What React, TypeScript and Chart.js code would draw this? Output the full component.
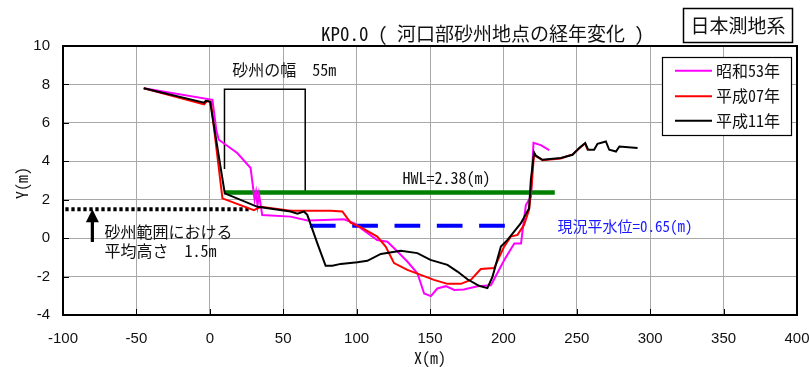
import { useEffect, useRef } from "react";
import { Chart, registerables } from "chart.js";

Chart.register(...registerables);

// Survey cross-section KP0.0, distance X (m) and elevation Y (m)
const showa53X = [-45, 1.8, 4.5, 6.1, 18.7, 27.8, 30.5, 31.5, 32.5, 33.5, 35.7, 55, 66.5, 78, 91.5, 98.4, 114, 121, 128, 134.7, 141.5, 146, 150.6, 155, 160.8, 166.5, 173, 182.4, 191.5, 200.5, 207.4, 212, 214.3, 215.3, 218.7, 220.5, 225.5, 231.2];
const showa53Y = [7.8, 7.2, 5.6, 5.12, 4.43, 3.65, 2.0, 2.4, 1.7, 2.3, 1.2, 1.12, 0.92, 0.95, 0.98, 0.77, -0.1, -0.19, -0.71, -1.23, -1.84, -2.88, -3.02, -2.62, -2.5, -2.7, -2.67, -2.5, -2.45, -1.15, -0.28, -0.28, 1.15, 1.72, 2.15, 4.96, 4.84, 4.58];

const heisei07X = [-45, -3.9, -1.7, 0.7, 8.6, 30, 34.8, 55, 82.5, 90.3, 95.9, 103.9, 114.1, 119.8, 125.5, 134.6, 143.7, 152.7, 161.9, 171, 177.8, 184.6, 193.7, 200.5, 205, 209.6, 214.1, 217.5, 219.2, 220.9, 222.1, 226.6, 239.1, 247.1, 251.6, 255.7, 257.5];
const heisei07Y = [7.8, 6.96, 7.15, 7.1, 2.07, 1.46, 1.63, 1.42, 1.42, 1.39, 0.81, 0.52, 0.08, -0.44, -1.3, -1.65, -1.91, -2.17, -2.38, -2.38, -2.17, -1.61, -1.56, -0.44, 0.08, 0.17, 0.69, 1.47, 2.69, 4.42, 4.27, 4.06, 4.15, 4.36, 4.67, 4.93, 4.58];

const heisei11X = [-45, -3.9, -2.7, 0.2, 10.2, 32.5, 55, 59.7, 64.1, 66.4, 73.2, 78.9, 83.5, 89.2, 100.5, 107.3, 116.5, 130.1, 141.4, 150.3, 161.9, 168.7, 175.5, 183.4, 189.1, 192.6, 198.3, 202.8, 211.9, 217.5, 218.7, 220.9, 222.1, 226.6, 239.1, 247.1, 251.6, 255.7, 257.7, 261.8, 264.1, 269.8, 272.1, 276.7, 279, 291.4];
const heisei11Y = [7.8, 7.05, 7.15, 7.1, 2.33, 1.63, 1.39, 1.27, 1.39, 1.21, -0.26, -1.44, -1.44, -1.34, -1.25, -1.18, -0.82, -0.66, -0.78, -1.13, -1.39, -1.74, -2.14, -2.48, -2.6, -2.0, -0.44, -0.09, 0.78, 1.56, 3.04, 4.46, 4.29, 4.08, 4.17, 4.34, 4.69, 4.95, 4.6, 4.6, 4.91, 5.03, 4.6, 4.51, 4.77, 4.69];

// Reference levels
const HWL = 2.38;
const hwlRange = [10, 235];
const normalWater = 0.65;
const normalWaterRange = [68.2, 212];
const meanBarHeight = 1.5;
const meanBarRange = [-98.4, 26.5];
const barLeft = 10;
const barRight = 65;
const barTop = 7.75;
const barLeftFoot = 3.6;
const arrowX = -80;
const arrowFoot = -0.2;

// Axes
const xTicks = [-100, -50, 0, 50, 100, 150, 200, 250, 300, 350, 400];
const yTicks = [-4, -2, 0, 2, 4, 6, 8, 10];

const seriesNames = ["昭和53年", "平成07年", "平成11年"];
const seriesColors = ["#ff00ff", "#ff0000", "#000000"];

const pts = (xs: number[], ys: number[]) => xs.map((x, i) => ({ x, y: ys[i] }));

const mono = (size: number) =>
  `${size}px "Noto Sans Mono CJK JP", "Noto Sans CJK JP", sans-serif`;

const overlay = {
  id: "overlay",
  afterDraw(chart: any) {
    const { ctx, chartArea: a, scales } = chart;
    const sx = scales.x;
    const sy = scales.y;
    ctx.save();

    // inner tick marks
    ctx.strokeStyle = "#000";
    ctx.lineWidth = 1;
    ctx.beginPath();
    xTicks.forEach((v) => {
      const px = Math.round(sx.getPixelForValue(v)) + 0.5;
      ctx.moveTo(px, a.bottom);
      ctx.lineTo(px, a.bottom - 6);
    });
    yTicks.forEach((v) => {
      const py = Math.round(sy.getPixelForValue(v)) + 0.5;
      ctx.moveTo(a.left, py);
      ctx.lineTo(a.left + 6, py);
    });
    ctx.stroke();

    // plot frame
    ctx.lineWidth = 2;
    ctx.strokeRect(a.left, a.top, a.right - a.left, a.bottom - a.top);

    // arrow for mean bar height
    const ax = sx.getPixelForValue(arrowX);
    const tip = sy.getPixelForValue(meanBarHeight);
    const foot = sy.getPixelForValue(arrowFoot);
    ctx.fillStyle = "#000";
    ctx.fillRect(ax - 1.6, tip + 11, 3.2, foot - tip - 11);
    ctx.beginPath();
    ctx.moveTo(ax, tip);
    ctx.lineTo(ax - 6.5, tip + 13);
    ctx.lineTo(ax + 6.5, tip + 13);
    ctx.closePath();
    ctx.fill();

    // annotations
    ctx.textBaseline = "middle";
    ctx.textAlign = "left";
    ctx.fillStyle = "#111";
    ctx.font = mono(16);
    ctx.fillText("砂州の幅", sx.getPixelForValue(15.3), sy.getPixelForValue(8.73));
    ctx.fillText("55m", sx.getPixelForValue(69.8), sy.getPixelForValue(8.73));
    ctx.fillText(`HWL=${HWL}(m)`, sx.getPixelForValue(131.2), sy.getPixelForValue(3.12));
    ctx.fillText("砂州範囲における", sx.getPixelForValue(-71.8), sy.getPixelForValue(0.33));
    ctx.fillText(`平均高さ　${meanBarHeight}m`, sx.getPixelForValue(-71.8), sy.getPixelForValue(-0.65));
    ctx.fillStyle = "#1a1aff";
    ctx.font = mono(15);
    ctx.fillText(`現況平水位=${normalWater}(m)`, sx.getPixelForValue(236.9), sy.getPixelForValue(0.6));

    // title
    ctx.fillStyle = "#111";
    ctx.textAlign = "center";
    ctx.font = mono(19);
    ctx.fillText("KP0.0 ( 河口部砂州地点の経年変化 )", 482.5, 34);

    // datum box
    ctx.fillStyle = "#fff";
    ctx.fillRect(683.5, 8.5, 109, 34);
    ctx.lineWidth = 1.5;
    ctx.strokeStyle = "#000";
    ctx.strokeRect(683.5, 8.5, 109, 34);
    ctx.fillStyle = "#111";
    ctx.font = mono(19);
    ctx.fillText("日本測地系", 738, 26);

    // axis titles
    ctx.font = mono(16);
    ctx.fillText("X(m)", (a.left + a.right) / 2, 358);
    ctx.save();
    ctx.translate(21.5, 183);
    ctx.rotate(-Math.PI / 2);
    ctx.fillText("Y(m)", 0, 0);
    ctx.restore();

    // legend
    ctx.fillStyle = "#fff";
    ctx.fillRect(662.5, 57.5, 129, 78);
    ctx.lineWidth = 1.2;
    ctx.strokeStyle = "#000";
    ctx.strokeRect(662.5, 57.5, 129, 78);
    const rows = [70.7, 96.2, 120.7];
    ctx.textAlign = "left";
    ctx.font = mono(16);
    seriesNames.forEach((name, i) => {
      ctx.strokeStyle = seriesColors[i];
      ctx.lineWidth = 2;
      ctx.beginPath();
      ctx.moveTo(675, rows[i]);
      ctx.lineTo(712, rows[i]);
      ctx.stroke();
      ctx.fillStyle = "#111";
      ctx.fillText(name, 716, rows[i]);
    });

    ctx.restore();
  },
};

export default function App() {
  const ref = useRef<HTMLCanvasElement | null>(null);

  useEffect(() => {
    if (!ref.current) return;
    const line = (data: any, color: string, width: number, dash: number[] = []) => ({
      data,
      borderColor: color,
      backgroundColor: color,
      borderWidth: width,
      borderDash: dash,
      borderCapStyle: "butt",
      pointRadius: 0,
      tension: 0,
      fill: false,
      showLine: true,
    });
    const chart = new Chart(ref.current, {
      type: "line",
      data: {
        datasets: [
          { label: seriesNames[2], ...line(pts(heisei11X, heisei11Y), seriesColors[2], 2) },
          { label: seriesNames[1], ...line(pts(heisei07X, heisei07Y), seriesColors[1], 2) },
          { label: seriesNames[0], ...line(pts(showa53X, showa53Y), seriesColors[0], 2) },
          { label: "HWL", ...line(hwlRange.map((x) => ({ x, y: HWL })), "#008000", 4.5) },
          {
            label: "現況平水位",
            ...line(normalWaterRange.map((x) => ({ x, y: normalWater })), "#0000ff", 4, [25.7, 16.6]),
          },
          {
            label: "平均高さ",
            ...line(meanBarRange.map((x) => ({ x, y: meanBarHeight })), "#000000", 4, [3.3, 2.7]),
          },
          {
            label: "砂州の幅",
            ...line(
              [
                { x: barLeft, y: barLeftFoot },
                { x: barLeft, y: barTop },
                { x: barRight, y: barTop },
                { x: barRight, y: HWL },
              ],
              "#000000",
              1.5
            ),
          },
        ] as any,
      },
      options: {
        animation: false,
        responsive: false,
        devicePixelRatio: 1,
        layout: { padding: { top: 46, right: 12, left: 0, bottom: 0 } },
        plugins: { legend: { display: false }, title: { display: false }, tooltip: { enabled: false } },
        scales: {
          x: {
            type: "linear",
            min: -100,
            max: 400,
            afterBuildTicks: (s: any) => {
              s.ticks = xTicks.map((value) => ({ value }));
            },
            afterFit: (s: any) => {
              s.height = 52;
              s.paddingLeft = 0;
              s.paddingRight = 0;
            },
            grid: { color: "#a8a8a8", lineWidth: 1, drawTicks: false },
            border: { display: false },
            ticks: {
              color: "#111",
              padding: 15,
              maxRotation: 0,
              font: { family: '"Liberation Sans", Arial, sans-serif', size: 15 },
            },
          },
          y: {
            type: "linear",
            min: -4,
            max: 10,
            afterBuildTicks: (s: any) => {
              s.ticks = yTicks.map((value) => ({ value }));
            },
            afterFit: (s: any) => {
              s.width = 63;
              s.paddingTop = 0;
              s.paddingBottom = 0;
            },
            grid: { color: "#a8a8a8", lineWidth: 1, drawTicks: false },
            border: { display: false },
            ticks: {
              color: "#111",
              padding: 13,
              font: { family: '"Liberation Sans", Arial, sans-serif', size: 15 },
            },
          },
        },
      } as any,
      plugins: [overlay],
    });
    return () => chart.destroy();
  }, []);

  return (
    <div style={{ position: "fixed", left: 0, top: 0, width: 809, height: 367, background: "#fff" }}>
      <canvas ref={ref} width={809} height={367} />
    </div>
  );
}
